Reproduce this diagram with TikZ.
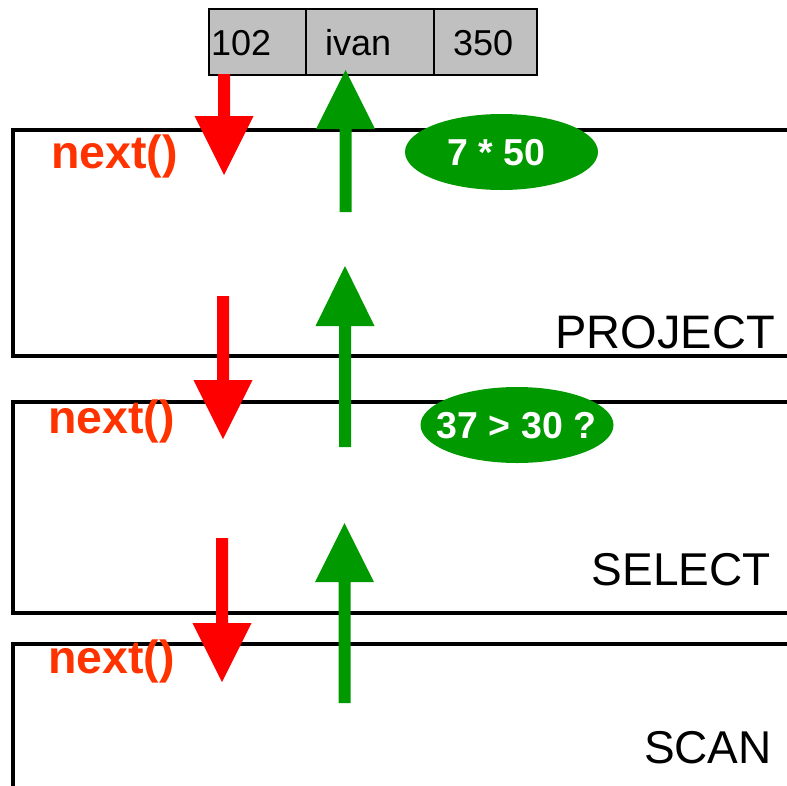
\documentclass[tikz,border=0pt]{standalone}
\usepackage{fontspec}
\setmainfont{Liberation Sans}
\usetikzlibrary{shapes.geometric}
\definecolor{arrred}{HTML}{FF0000}
\definecolor{arrgreen}{HTML}{009900}
\definecolor{nextcol}{HTML}{FF3300}
\definecolor{cellgray}{HTML}{C0C0C0}
\tikzset{
  opbox/.style={draw=black, line width=3.5pt},
  cell/.style={draw=black, fill=cellgray, line width=1.5pt, rectangle, minimum height=66pt, inner sep=0pt, anchor=north west},
  celltext/.style={font=\fontsize{36}{40}\selectfont, anchor=base west, inner sep=0pt},
  nextlbl/.style={font=\fontsize{46.5}{50}\selectfont\bfseries, text=nextcol, anchor=base west, inner sep=0pt},
  oplbl/.style={font=\fontsize{46}{50}\selectfont, anchor=base east, inner sep=0pt},
  calc/.style={ellipse, fill=arrgreen, minimum width=193pt, minimum height=76pt, inner sep=0pt},
  calctext/.style={text=white, font=\fontsize{37.5}{40}\selectfont\bfseries, inner sep=0pt},
}
% colour, x centre, y of shaft end, y of head base, y of tip
\newcommand\blockarr[5]{%
  \fill[#1] ({#2-6},#3) -- ({#2+6},#3) -- ({#2+6},#4) -- ({#2+29.5},#4) -- (#2,#5) -- ({#2-29.5},#4) -- ({#2-6},#4) -- cycle;}
\begin{document}
\begin{tikzpicture}[x=1pt,y=-1pt]
\useasboundingbox (0,0) rectangle (787,785);
% operator boxes
\draw[opbox] (790,130) -- (13,130) -- (13,356) -- (790,356);
\draw[opbox] (790,402) -- (13,402) -- (13,613) -- (790,613);
\draw[opbox] (790,644) -- (13,644) -- (13,790);
\node[oplbl, font=\fontsize{47}{50}\selectfont] (project) at (775,348) {PROJECT};
\node[oplbl] (select) at (771,585) {SELECT};
\node[oplbl] (scan) at (772,763) {SCAN};
% tuple
\node[cell, minimum width=97pt] (c1) at (208,8) {};
\node[cell, minimum width=128pt] (c2) at (305,8) {};
\node[cell, minimum width=103pt] (c3) at (433,8) {};
\node[celltext] (t1) at (211,55) {102};
\node[celltext] (t2) at (325,55) {ivan};
\node[celltext] (t3) at (453,55) {350};
% next() labels
\node[nextlbl] (n1) at (51,168) {next()};
\node[nextlbl] (n2) at (48,433) {next()};
\node[nextlbl] (n3) at (48,673) {next()};
% arrows
\blockarr{arrred}{224}{74}{116}{175}
\blockarr{arrred}{223}{296}{380}{439}
\blockarr{arrred}{222}{538}{623}{682}
\blockarr{arrgreen}{345.5}{212}{129}{70}
\blockarr{arrgreen}{345}{447}{326}{266}
\blockarr{arrgreen}{344.5}{703}{582}{523}
% computations
\node[calc] (e1) at (501.5,152) {};
\node[calctext] (e1t) at (496.5,153) {7 * 50};
\node[calc] (e2) at (517,425) {};
\node[calctext] (e2t) at (516.5,425.5) {37 > 30 ?};
\end{tikzpicture}
\end{document}
